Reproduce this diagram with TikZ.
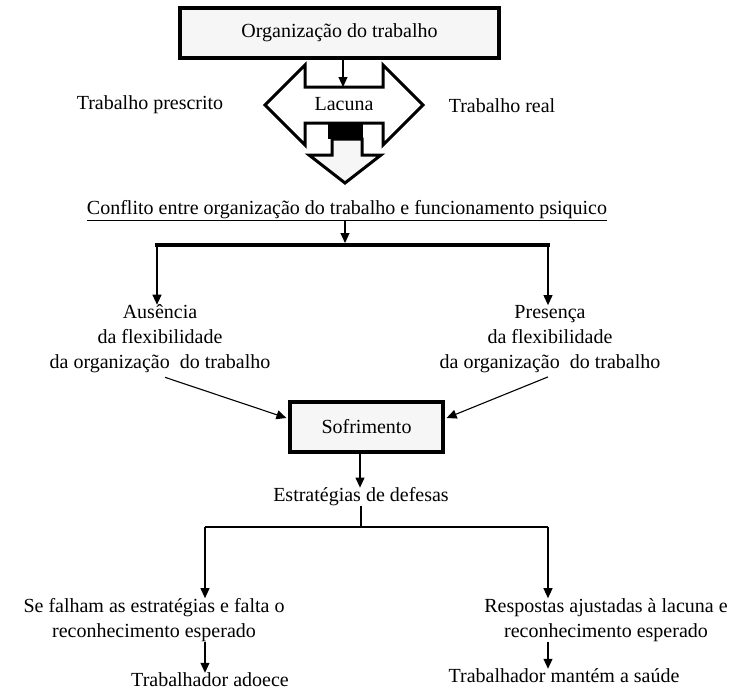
\documentclass[tikz,border=0pt]{standalone}
\usepackage{fontspec}
\setmainfont{Liberation Serif}
\usetikzlibrary{arrows.meta,calc}
\begin{document}
\begin{tikzpicture}[x=1pt,y=-1pt,
  every node/.style={font=\fontsize{20}{25}\selectfont, inner sep=0pt},
  framebox/.style={draw, line width=3.2pt, fill=gray!7, minimum width=#1, minimum height=50pt},
  arr/.style={-{Triangle[length=10pt,width=9pt]}, line width=1.1pt},
  plain/.style={line width=1.1pt},
  txt/.style={align=center}]
\useasboundingbox (0,0) rectangle (730,691);

% top box
\node[framebox=319pt] (org) at (339.5,33) {Organização do trabalho};

% double block arrow around "Lacuna"
\draw[line width=3pt, fill=white, line join=miter]
  (305,65) -- (305,87) -- (383,87) -- (383,65) -- (423,105) -- (383,145)
  -- (383,123) -- (305,123) -- (305,145) -- (265,105) -- cycle;
\node (lacuna) at (344,104) {Lacuna};
\coordinate (lacunatop) at (343,87);
\draw[arr] (org.south -| lacunatop) -- (lacunatop);

% black block and downward block arrow
\fill[black] (328,123) rectangle (363,139);
\draw[line width=3pt, fill=gray!7, line join=miter]
  (332,139) -- (332,155) -- (309,155) -- (345,183) -- (381,155)
  -- (362,155) -- (362,139) -- cycle;

\node (presc) at (150,105) {Trabalho prescrito};
\node (real) at (502,106) {Trabalho real};

% conflict line
\node (conf) at (347,211) {\underline{Conflito entre organização do trabalho e funcionamento psiquico}};
\coordinate (bar) at (345,243);
\draw[arr] (conf.south -| bar) -- (bar);
\coordinate (barL) at (157,245);
\coordinate (barR) at (548,245);
\draw[line width=4.5pt] ([xshift=-2pt]barL) -- ([xshift=2pt]barR);

% flexibility branches
\node[txt] (aus) at (160,339) {Ausência\\da flexibilidade\\da organização~ do trabalho};
\node[txt] (pres) at (550,339) {Presença\\da flexibilidade\\da organização~ do trabalho};
\draw[arr] (barL) -- (barL |- aus.north);
\draw[arr] (barR) -- (barR |- pres.north);

% suffering box
\node[framebox=153pt] (sof) at (366.5,427) {Sofrimento};
\draw[arr] ([xshift=5pt,yshift=-4pt]aus.south) -- ([yshift=9pt,xshift=-2pt]sof.west);
\draw[arr] ([xshift=-2pt,yshift=-4pt]pres.south) -- ([yshift=9pt,xshift=2pt]sof.east);

% defence strategies
\node (estr) at (361,497) {Estratégias de defesas};
\coordinate (sofout) at (360,452);
\draw[arr] (sofout) -- (sofout |- estr.north);
\coordinate (split) at (361,527);
\coordinate (splitL) at (205,527);
\coordinate (splitR) at (548,527);
\draw[plain] (estr.south -| split) -- (split);
\draw[plain] (splitL) -- (splitR);

\node[txt] (fail) at (154,620) {Se falham as estratégias e falta o\\reconhecimento esperado};
\node[txt] (ok) at (606,620) {Respostas ajustadas à lacuna e\\reconhecimento esperado};
\draw[arr] (splitL) -- (splitL |- fail.north);
\draw[arr] (splitR) -- (splitR |- ok.north);

\node (ill) at (210,680) {Trabalhador adoece};
\node (health) at (564,676) {Trabalhador mantém a saúde};
\draw[arr] (fail.south -| splitL) -- (splitL |- ill.north);
\draw[arr] (ok.south -| splitR) -- (splitR |- health.north);
\end{tikzpicture}
\end{document}
